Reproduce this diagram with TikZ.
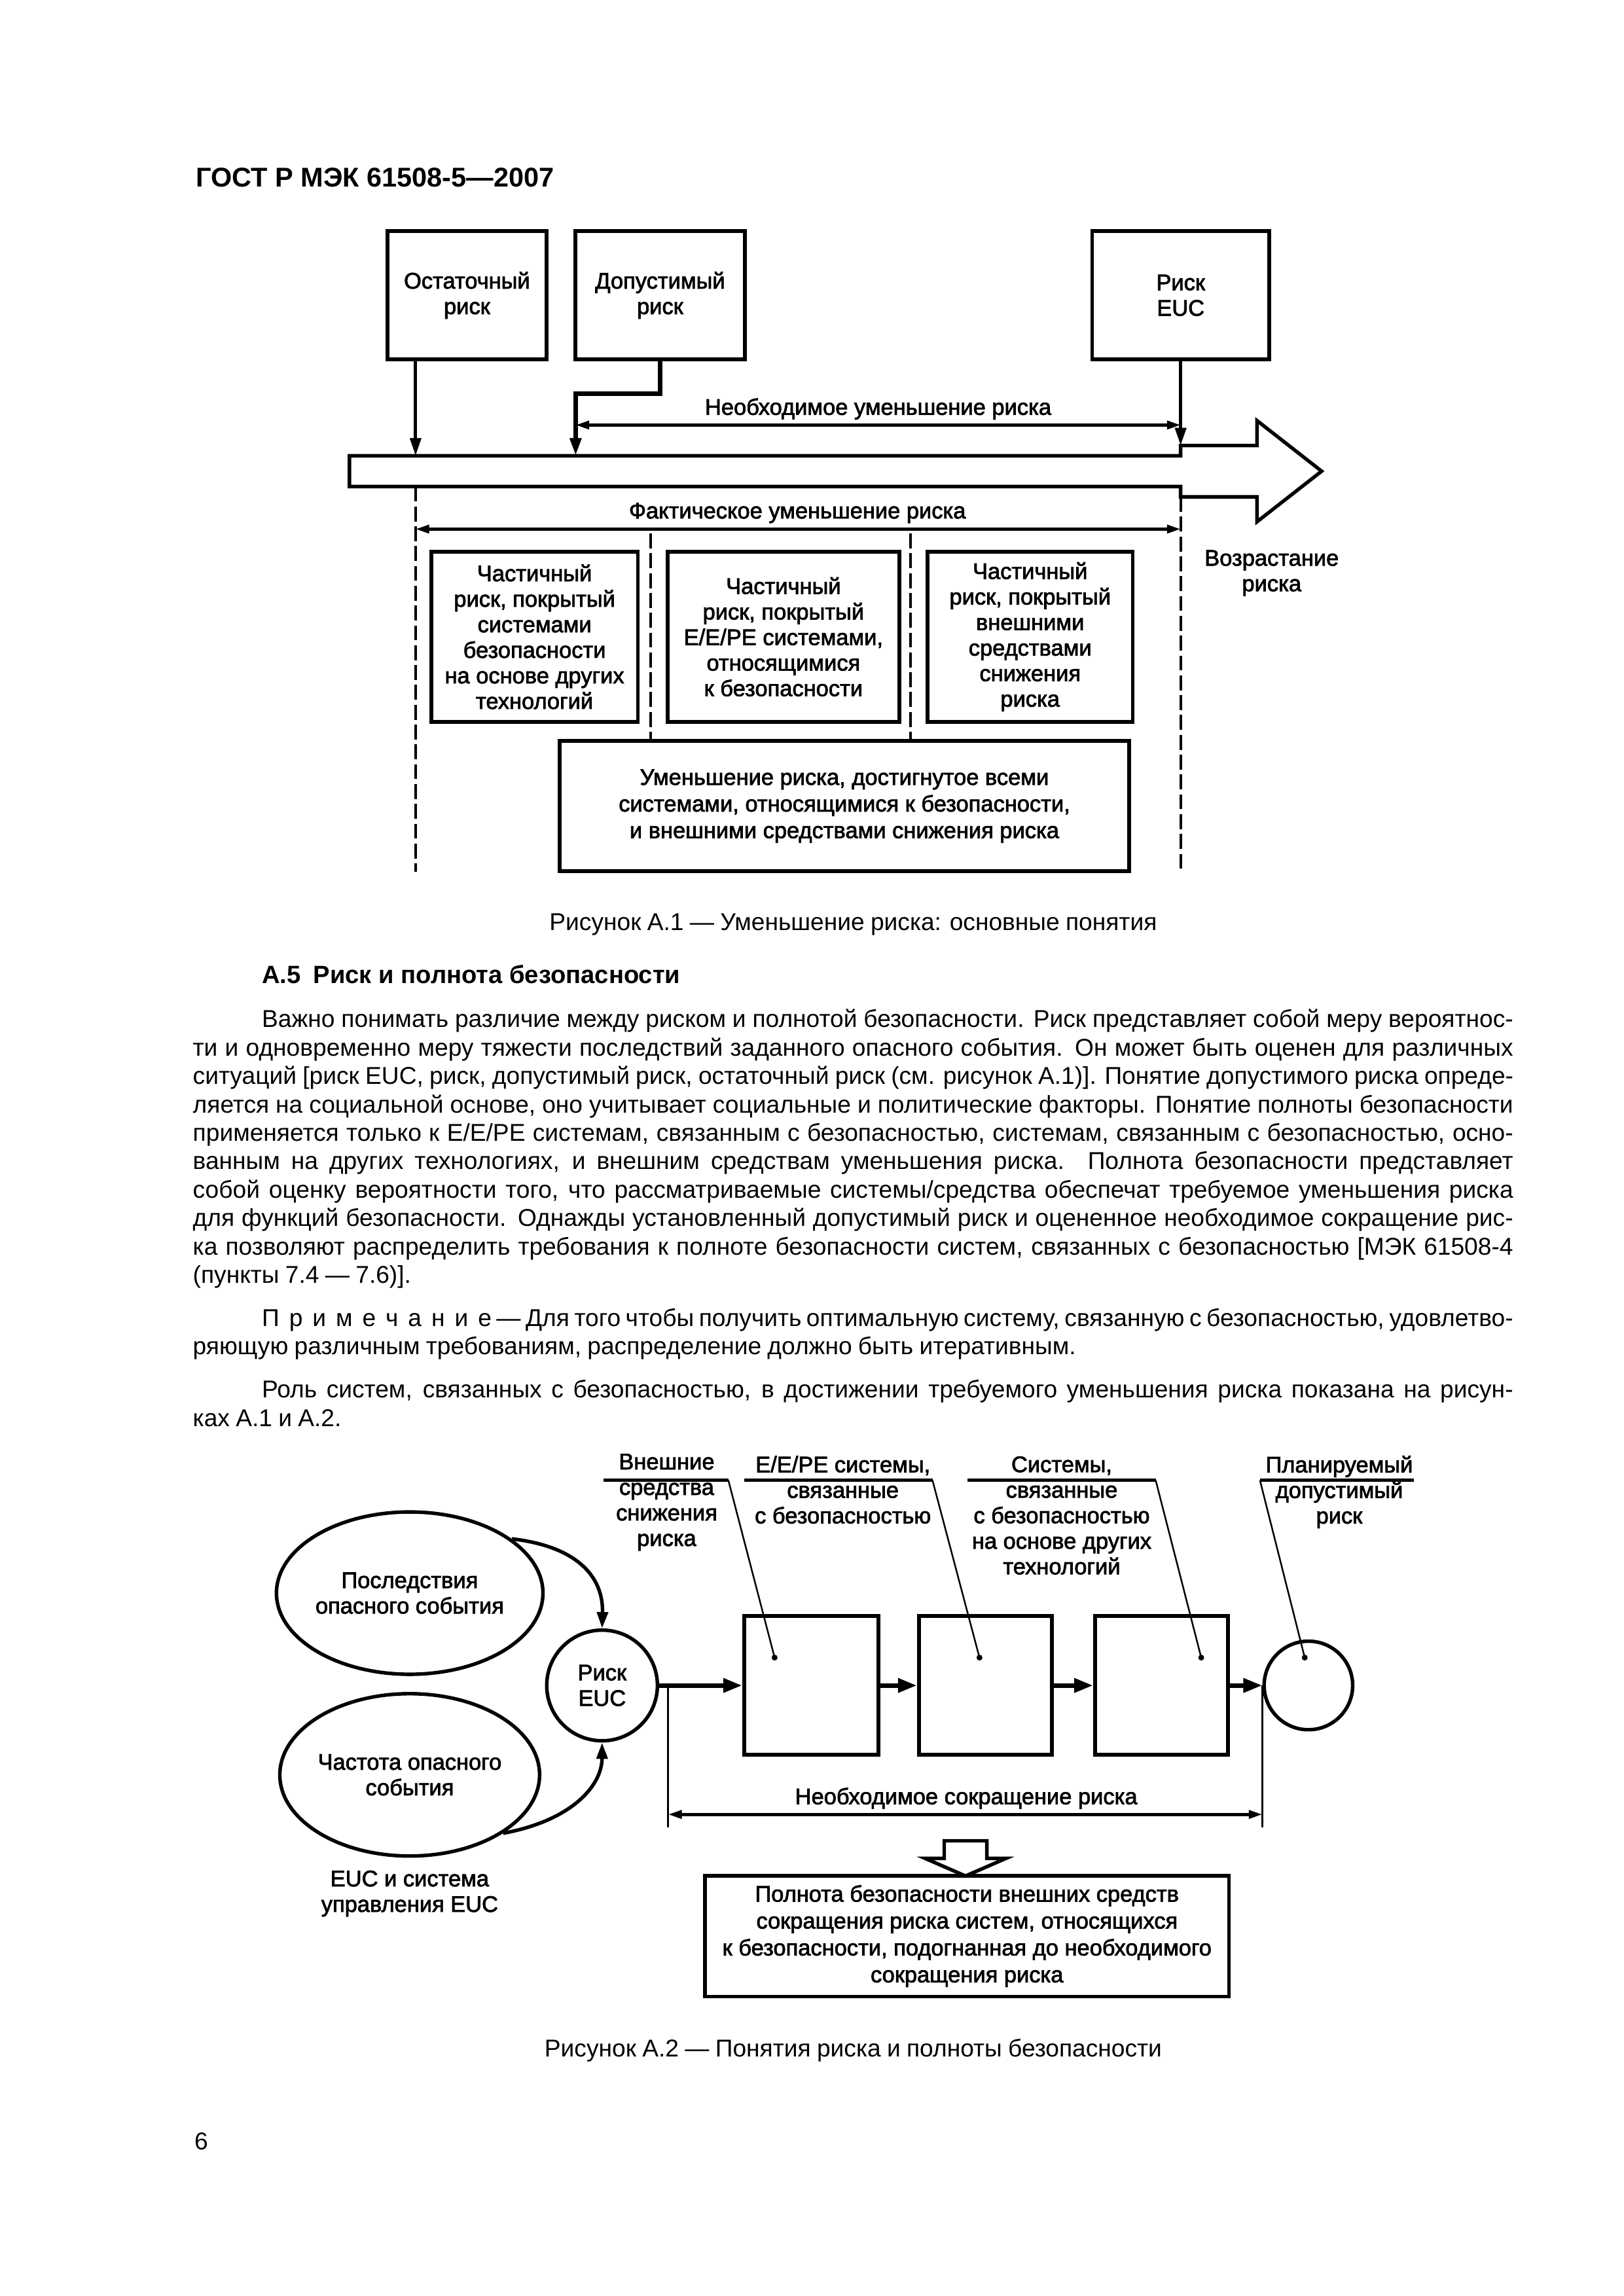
\documentclass[tikz,border=0pt]{standalone}
\usepackage{fontspec}
\setmainfont{Liberation Sans}
\newfontfamily\dfont[FakeBold=2.2]{Liberation Sans}
\usetikzlibrary{arrows.meta,shapes.geometric,calc}
\def\gpx{0.19091mm}
\newlength\fullw \setlength\fullw{170.78mm}
\newlength\indw \setlength\indw{161.85mm}
\newcommand\dtxt{\dfont\fontsize{8.3}{9.4}\selectfont}
\newcommand\btxt{\fontsize{8.95}{10.5}\selectfont\spaceskip=0.25em plus 1em minus 0.1em\relax}
\newcommand\jl[5]{\node[bline] (#1) at (#2,#3) {\makebox[#4][s]{#5}};}
\tikzset{
  rbox/.style 2 args={draw, line width=1.4pt, minimum width=#1*\gpx, minimum height=#2*\gpx, inner sep=0pt, align=center, font=\dtxt},
  lbl/.style={inner sep=0pt, align=center, font=\dtxt},
  conn/.style={line width=1.2pt},
  tipv/.style={-{Triangle[length=6.5pt,width=4pt]}},
  dbl/.style={line width=1.1pt, {Triangle[length=5pt,width=3pt]}-{Triangle[length=5pt,width=3pt]}},
  dashln/.style={line width=1pt, dash pattern=on 5.5pt off 1.8pt},
  flow/.style={line width=1.7pt, -{Triangle[length=7pt,width=5pt]}},
  lead/.style={line width=0.6pt},
  uline/.style={line width=1.1pt},
  bline/.style={anchor=base west, inner sep=0pt, font=\btxt},
  capt/.style={inner sep=0pt, font=\btxt},
  oval/.style={ellipse, draw, line width=1.3pt, minimum width=162*\gpx, minimum height=110*\gpx, inner sep=0pt, align=center, font=\dtxt},
  rnd/.style={circle, draw, line width=1.3pt, minimum size=#1*\gpx, inner sep=0pt, align=center, font=\dtxt},
  curv/.style={line width=1.3pt, -{Triangle[length=6pt,width=4pt]}},
}
\begin{document}
\begin{tikzpicture}[x=0.18996mm, y=-0.18961mm]
\fill[white] (0,0) rectangle (1105.5,1566.6);
\useasboundingbox (0,0) rectangle (1105.5,1566.6);

% header
\node[anchor=base west, inner sep=0pt, font=\bfseries\fontsize{10}{12}\selectfont] (hdr) at (133,127.5) {ГОСТ Р МЭК 61508-5—2007};

% ---------------- Figure A.1 ----------------
\node[rbox={108}{87}] (bost) at (318,201.5) {Остаточный\\риск};
\node[rbox={115}{87}] (bdop) at (449.5,201.5) {Допустимый\\риск};
\node[rbox={120}{87}] (beuc) at (804,201.5) {Риск\\EUC};

\coordinate (resid) at (283,311);
\coordinate (tolr) at (392,311);
\coordinate (eucin) at (804,304);
\draw[conn,tipv] (resid |- bost.south) -- (resid);
\draw[conn,tipv,line width=1.6pt] (bdop.south) -- ++(0,22) -| (tolr);
\draw[conn,tipv] (beuc.south) -- (eucin);

\coordinate (nr1) at (392,290);
\coordinate (nr2) at (804,290);
\draw[dbl] (nr1) -- (nr2);
\node[lbl] (nrl) at (598,279) {Необходимое уменьшение риска};

% big arrow
\draw[line width=1.3pt] (238,311) -- (804,311) -- (804,304) -- (856,304) -- (856,287) -- (900,321.5) -- (856,356) -- (856,339) -- (804,339) -- (804,332) -- (238,332) -- cycle;

% dashed lines
\draw[dashln] (283,332) -- (283,595);
\draw[dashln] (804,339) -- (804,595);
\draw[dashln] (443,364) -- (443,506);
\draw[dashln] (620,364) -- (620,506);

\coordinate (ar1) at (283,361);
\coordinate (ar2) at (804,361);
\draw[dbl] (ar1) -- (ar2);
\node[lbl] (arl) at (543,350) {Фактическое уменьшение риска};

\node[rbox={140}{115}] (pa) at (364,434.5) {Частичный\\риск, покрытый\\системами\\безопасности\\на основе других\\технологий};
\node[rbox={157}{115}] (pb) at (533.5,434.5) {Частичный\\риск, покрытый\\E/E/PE системами,\\относящимися\\к безопасности};
\node[rbox={139}{115}] (pc) at (701.5,434.5) {Частичный\\риск, покрытый\\внешними\\средствами\\снижения\\риска};
\node[rbox={386}{88}, font=\dfont\fontsize{8.3}{9.8}\selectfont] (ptot) at (575,550) {Уменьшение риска, достигнутое всеми\\системами, относящимися к безопасности,\\и внешними средствами снижения риска};

\node[lbl] (incr) at (866,391) {Возрастание\\риска};

\node[capt] (cap1) at (581,631) {Рисунок А.1 — Уменьшение риска: основные понятия};

% ---------------- Text ----------------
\node[anchor=base west, inner sep=0pt, font=\bfseries\fontsize{9.2}{11}\selectfont] (sec) at (178,671) {А.5\hspace{0.5em}Риск и полнота безопасности};

\jl{t1}{178}{701}{\indw}{Важно понимать различие между риском и полнотой безопасности. Риск представляет собой меру вероятнос-}
\jl{t2}{131}{720.4}{\fullw}{ти и одновременно меру тяжести последствий заданного опасного события. Он может быть оценен для различных}
\jl{t3}{131}{739.8}{\fullw}{ситуаций [риск EUC, риск, допустимый риск, остаточный риск (см. рисунок А.1)]. Понятие допустимого риска опреде-}
\jl{t4}{131}{759.2}{\fullw}{ляется на социальной основе, оно учитывает социальные и политические факторы. Понятие полноты безопасности}
\jl{t5}{131}{778.6}{\fullw}{применяется только к E/E/PE системам, связанным с безопасностью, системам, связанным с безопасностью, осно-}
\jl{t6}{131}{798}{\fullw}{ванным на других технологиях, и внешним средствам уменьшения риска. Полнота безопасности представляет}
\jl{t7}{131}{817.4}{\fullw}{собой оценку вероятности того, что рассматриваемые системы/средства обеспечат требуемое уменьшения риска}
\jl{t8}{131}{836.8}{\fullw}{для функций безопасности. Однажды установленный допустимый риск и оцененное необходимое сокращение рис-}
\jl{t9}{131}{856.2}{\fullw}{ка позволяют распределить требования к полноте безопасности систем, связанных с безопасностью [МЭК 61508-4}
\node[bline] (t10) at (131,875.6) {(пункты 7.4 — 7.6)].};

\jl{t11}{178}{905}{\indw}{П\kern3.6ptр\kern3.6ptи\kern3.6ptм\kern3.6ptе\kern3.6ptч\kern3.6ptа\kern3.6ptн\kern3.6ptи\kern3.6ptе — Для того чтобы получить оптимальную систему, связанную с безопасностью, удовлетво-}
\node[bline] (t12) at (131,924.4) {ряющую различным требованиям, распределение должно быть итеративным.};

\jl{t13}{178}{953.8}{\indw}{Роль систем, связанных с безопасностью, в достижении требуемого уменьшения риска показана на рисун-}
\node[bline] (t14) at (131,973.2) {ках А.1 и А.2.};

% ---------------- Figure A.2 ----------------
\node[oval] (e1) at (279,1087) {Последствия\\опасного события};
\node[oval] (e2) at (279,1211) {Частота опасного\\события};
\node[lbl] (euct) at (279,1292) {EUC и система\\управления EUC};

\node[rnd=75] (ceuc) at (410,1150) {Риск\\EUC};
\draw[curv] (e1.28) .. controls (392,1055) and (411,1075) .. (ceuc.north);
\draw[curv] (e2.-32) .. controls (390,1242) and (410,1218) .. (ceuc.south);

\node[rbox={91}{94}] (b1) at (552.5,1150) {};
\node[rbox={90}{94}] (b2) at (671,1150) {};
\node[rbox={90}{94}] (b3) at (791,1150) {};
\node[rnd=60] (cplan) at (891,1150) {};

\draw[flow] (ceuc.east) -- (b1.west);
\draw[flow] (b1.east) -- (b2.west);
\draw[flow] (b2.east) -- (b3.west);
\draw[flow] (b3.east) -- (cplan.west);

% labels with leaders
\node[lbl] (l1) at (454,1025) {Внешние\\средства\\снижения\\риска};
\node[lbl] (l2) at (574,1016.5) {E/E/PE системы,\\связанные\\с безопасностью};
\node[lbl] (l3) at (723,1034) {Системы,\\связанные\\с безопасностью\\на основе других\\технологий};
\node[lbl] (l4) at (912,1018) {Планируемый\\допустимый\\риск};

\coordinate (u1a) at (411,1010); \coordinate (u1b) at (496,1010);
\coordinate (u2a) at (507,1010); \coordinate (u2b) at (635,1010);
\coordinate (u3a) at (659,1010); \coordinate (u3b) at (787,1010);
\coordinate (u4a) at (858,1010); \coordinate (u4b) at (963,1010);
\coordinate (d1) at (527.5,1131);
\coordinate (d2) at (667,1131);
\coordinate (d3) at (818,1131);
\coordinate (d4) at (888.5,1131);
\draw[uline] (u1a) -- (u1b); \draw[lead] (u1b) -- (d1);
\draw[uline] (u2a) -- (u2b); \draw[lead] (u2b) -- (d2);
\draw[uline] (u3a) -- (u3b); \draw[lead] (u3b) -- (d3);
\draw[uline] (u4a) -- (u4b); \draw[lead] (u4a) -- (d4);
\fill (d1) circle (2); \fill (d2) circle (2); \fill (d3) circle (2); \fill (d4) circle (2);

% required reduction
\coordinate (v1t) at (455,1150);
\coordinate (v1b) at (455,1247);
\coordinate (v2b) at (cplan.west |- v1b);
\draw[lead,line width=0.7pt] (v1t) -- (v1b);
\draw[lead,line width=0.7pt] (cplan.west) -- (v2b);
\coordinate (ns1) at (455,1238);
\coordinate (ns2) at (cplan.west |- ns1);
\draw[dbl] (ns1) -- (ns2);
\node[lbl] (nsl) at (658,1227) {Необходимое сокращение риска};

% hollow arrow
\draw[line width=1.3pt] (643,1256) -- (672,1256) -- (672,1268) -- (685,1268) -- (657.5,1280) -- (630,1268) -- (643,1268) -- cycle;

\node[rbox={355}{82}, font=\dfont\fontsize{8.3}{9.9}\selectfont] (pfin) at (658.5,1321) {Полнота безопасности внешних средств\\сокращения риска систем, относящихся\\к безопасности, подогнанная до необходимого\\сокращения риска};

\node[capt] (cap2) at (581,1399) {Рисунок А.2 — Понятия риска и полноты безопасности};

\node[capt] (pg) at (137,1461) {6};
\end{tikzpicture}
\end{document}
